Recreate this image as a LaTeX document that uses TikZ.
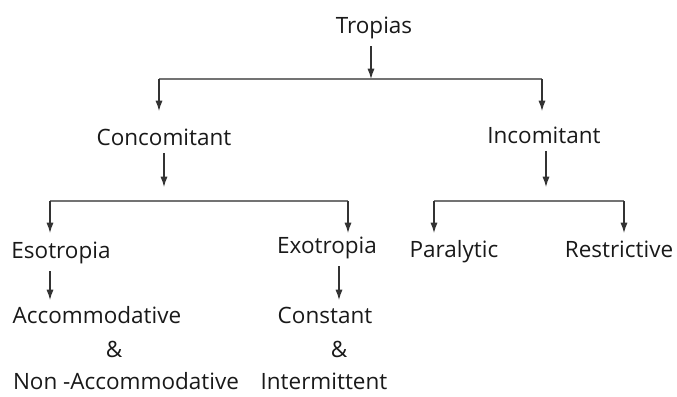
\documentclass[tikz,border=0pt]{standalone}
\usepackage{fontspec}
\setmainfont{Open Sans}
\usetikzlibrary{arrows.meta}

\begin{document}
\begin{tikzpicture}[x=0.025cm, y=-0.025cm, line width=0.3mm,
    lbl/.style={anchor=base, inner sep=0pt, text=black!90,
                font=\fontsize{16}{19}\selectfont},
    arr/.style={draw=black!80, -{Latex[length=2.6mm, width=1.8mm]}},
    bar/.style={draw=black!55}]

    \useasboundingbox (0, 0) rectangle (677, 396);

    % Labels, set on their baselines.
    \node[lbl] (tropias)  at (374,  33) {Tropias};
    \node[lbl] (concom)   at (164, 145) {Concomitant};
    \node[lbl] (incom)    at (544, 143) {Incomitant};
    \node[lbl] (eso)      at ( 61, 258) {Esotropia};
    \node[lbl] (exo)      at (327, 253) {Exotropia};
    \node[lbl] (paral)    at (454, 257) {Paralytic};
    \node[lbl] (restr)    at (619, 257) {Restrictive};
    \node[lbl] (accom)    at ( 97, 323) {Accommodative};
    \node[lbl] (and1)     at (114, 357) {\&};
    \node[lbl] (nonaccom) at (126, 389) {Non -Accommodative};
    \node[lbl] (const)    at (325, 323) {Constant};
    \node[lbl] (and2)     at (339, 357) {\&};
    \node[lbl] (interm)   at (324, 389) {Intermittent};

    % Coordinates for the ends of the bars.
    \coordinate (T)  at (371,  79);
    \coordinate (TL) at (159,  79);
    \coordinate (TR) at (542,  79);
    \coordinate (CL) at ( 50, 201);
    \coordinate (CR) at (348, 201);
    \coordinate (IL) at (434, 201);
    \coordinate (IR) at (624, 201);

    % Coordinates for the arrow tips.
    \coordinate (TLa) at (159, 111);
    \coordinate (TRa) at (542, 111);
    \coordinate (C)   at (164, 187);
    \coordinate (I)   at (546, 187);
    \coordinate (CLa) at ( 50, 233);
    \coordinate (CRa) at (348, 233);
    \coordinate (ILa) at (434, 233);
    \coordinate (IRa) at (624, 233);
    \coordinate (E)   at ( 50, 300);
    \coordinate (X)   at (339, 300);

    % Stems down from the labels.
    \draw[arr, shorten <=5pt] (T |- tropias.south) -- (T);
    \draw[arr, shorten <=5pt] (C |- concom.south)  -- (C);
    \draw[arr, shorten <=5pt] (I |- incom.south)   -- (I);
    \draw[arr, shorten <=5pt] (E |- eso.south)     -- (E);
    \draw[arr, shorten <=5pt] (X |- exo.south)     -- (X);

    % The bars.
    \draw[bar] (TL) -- (TR);
    \draw[bar] (CL) -- (CR);
    \draw[bar] (IL) -- (IR);

    % Drops from the bars.
    \draw[arr] (TL) -- (TLa);
    \draw[arr] (TR) -- (TRa);
    \draw[arr] (CL) -- (CLa);
    \draw[arr] (CR) -- (CRa);
    \draw[arr] (IL) -- (ILa);
    \draw[arr] (IR) -- (IRa);
\end{tikzpicture}
\end{document}
